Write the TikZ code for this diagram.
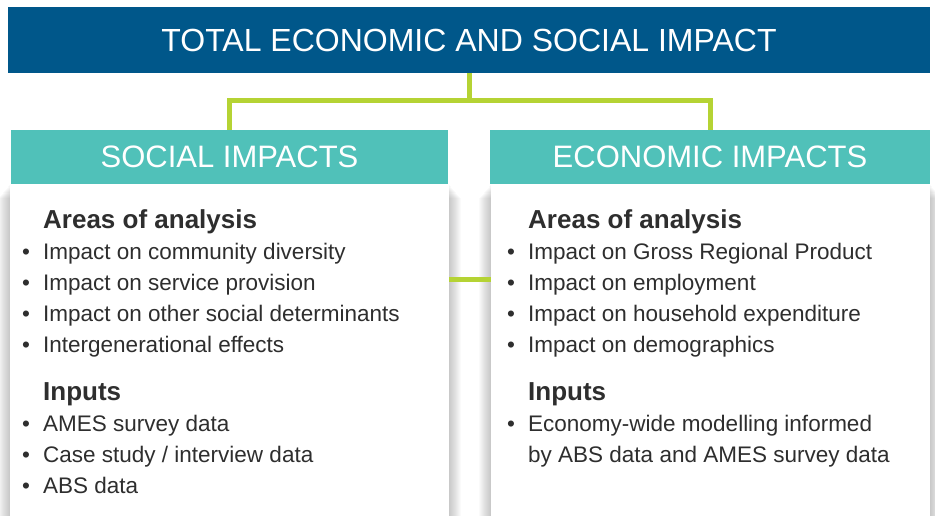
\documentclass[tikz,border=0pt]{standalone}
\usepackage{fontspec}
\setmainfont{Liberation Sans}
\usetikzlibrary{positioning,calc}
\definecolor{impactblue}{HTML}{00578A}
\definecolor{impactteal}{HTML}{50C1B9}
\definecolor{linkgreen}{HTML}{B5D334}
\definecolor{bodytext}{HTML}{2E2E2E}
\pgfdeclarelayer{background}
\pgfsetlayers{background,main}
\newcommand{\bul}{\makebox[21pt][l]{\textbullet}}

\begin{document}
\begin{tikzpicture}[x=1pt, y=-1pt,
    titlebox/.style={rectangle, fill=impactblue, text=white, inner sep=0pt,
                     minimum width=922pt, minimum height=66pt,
                     font=\fontsize{32}{36}\selectfont},
    header/.style={rectangle, fill=impactteal, text=white, inner sep=0pt,
                   minimum height=54pt, font=\fontsize{31}{35}\selectfont},
    panel/.style={rectangle, fill=white, anchor=north, inner sep=0pt,
                  minimum width=439pt, minimum height=346pt},
    link/.style={draw=linkgreen, line width=5pt},
    heading/.style={anchor=base west, inner sep=0pt, text=bodytext,
                    font=\fontsize{26}{30}\selectfont\bfseries},
    item/.style={anchor=base west, inner sep=0pt, text=bodytext,
                 font=\fontsize{22.5}{31}\selectfont}
]
\useasboundingbox (0,0) rectangle (935,516);

% Panels
\node[panel] (socialpanel) at (229.5,184) {};
\node[panel] (economicpanel) at (710.5,184) {};
\begin{pgfonlayer}{background}
  \foreach \p in {socialpanel,economicpanel}
    \foreach \s in {1,...,12}
      \fill[black, opacity=0.02] ([xshift=-\s pt, yshift=-1.2*\s pt]\p.north west)
        rectangle ([xshift=\s pt]\p.south east);
\end{pgfonlayer}

% Headers
\node[titlebox] (total) at (469,40) {TOTAL ECONOMIC AND SOCIAL IMPACT};
\node[header, minimum width=437pt] (social) at (229.5,157) {SOCIAL IMPACTS};
\node[header, minimum width=440pt] (economic) at (710,157) {ECONOMIC IMPACTS};

% Links
\draw[link] (total.south) -- ++(0,27) coordinate (hub);
\draw[link] (social.north) |- (hub) -| (economic.north);
\coordinate (midlink) at (0,279);
\draw[link] (socialpanel.east |- midlink) -- (economicpanel.west |- midlink);

% Social impacts
\node[heading] (sareas) at (43,228) {Areas of analysis};
\foreach \t [count=\i] in {Impact on community diversity,
    Impact on service provision, Impact on other social determinants,
    Intergenerational effects}
  \node[item] (sa\i) at (22,{228+31*\i}) {\bul\t};
\node[heading] (sinputs) at (43,400) {Inputs};
\foreach \t [count=\i] in {AMES survey data, Case study / interview data, ABS data}
  \node[item] (si\i) at (22,{400+31*\i}) {\bul\t};

% Economic impacts
\node[heading] (eareas) at (528,228) {Areas of analysis};
\foreach \t [count=\i] in {Impact on Gross Regional Product,
    Impact on employment, Impact on household expenditure,
    Impact on demographics}
  \node[item] (ea\i) at (507,{228+31*\i}) {\bul\t};
\node[heading] (einputs) at (528,400) {Inputs};
\node[item] (ei1) at (507,431) {\bul Economy-wide modelling informed};
\node[item] (ei1b) at (528,462) {by ABS data and AMES survey data};

\end{tikzpicture}
\end{document}
